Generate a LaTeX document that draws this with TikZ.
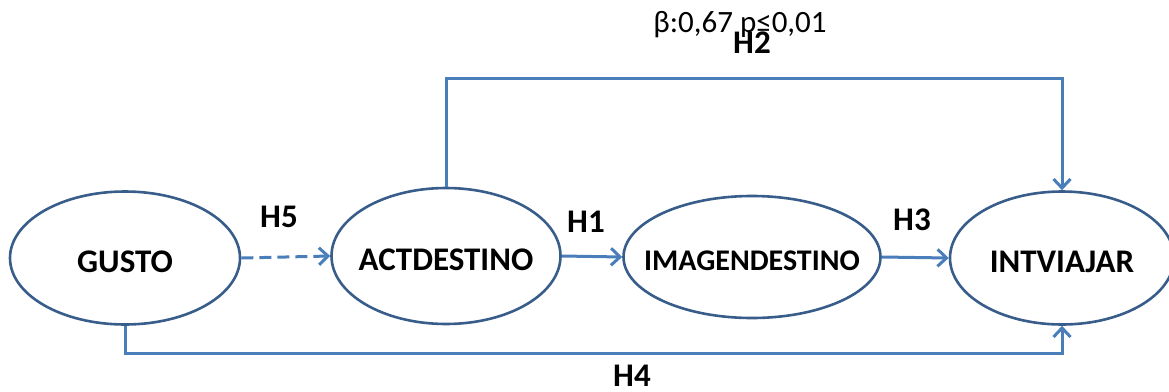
\documentclass[tikz,border=0pt]{standalone}
\usepackage{fontspec}
\setmainfont{Carlito}
\usetikzlibrary{shapes.geometric,arrows.meta}

\definecolor{linkblue}{RGB}{74,126,187}
\definecolor{rimblue}{RGB}{56,93,138}

\tikzset{
    construct/.style={ellipse, draw=rimblue, line width=2.6pt, inner sep=0pt},
    constructname/.style={font=\fontsize{33}{38}\selectfont\bfseries, yshift=-4pt},
    link/.style={draw=linkblue, line width=3pt, -{Straight Barb[length=9pt,width=17pt,line width=3pt]}},
    hyp/.style={font=\fontsize{33}{38}\selectfont\bfseries}
}

\begin{document}
\begin{tikzpicture}[x=1pt, y=-1pt]
            % page frame
            \useasboundingbox (0, 0) rectangle (1169, 391);
            \clip (0, 0) rectangle (1169, 391);
            % constructs
            \node[construct, minimum width=230, minimum height=133,
                label={[constructname]center:GUSTO}] (gusto) at (125, 258) {};
            \node[construct, minimum width=229, minimum height=136,
                label={[constructname]center:ACTDESTINO}] (actdestino) at (446, 256) {};
            \node[construct, minimum width=257, minimum height=122,
                label={[constructname, font=\fontsize{30}{35}\selectfont\bfseries]center:IMAGENDESTINO}] (imagendestino) at (752, 257) {};
            \node[construct, minimum width=224, minimum height=133,
                label={[constructname]center:INTVIAJAR}] (intviajar) at (1062, 258) {};
            % corner points of the long paths
            \coordinate (topline) at (0, 78);
            \coordinate (bottomline) at (0, 353);
            % paths
            \draw[link, dash pattern=on 12pt off 6pt] (gusto.east) -- (actdestino.west);
            \draw[link] (actdestino.east) -- (imagendestino.west);
            \draw[link] (imagendestino.east) -- (intviajar.west);
            \draw[link] (actdestino.north) |- (topline -| intviajar.north) -- (intviajar.north);
            \draw[link] (gusto.south) |- (bottomline -| intviajar.south) -- (intviajar.south);
            % labels
            \node[hyp] (hfive) at (279, 217) {H5};
            \node[hyp] (hone) at (586, 222) {H1};
            \node[hyp] (hthree) at (912, 220) {H3};
            \node[hyp] (hfour) at (632, 376) {H4};
            \node[font=\fontsize{31}{36}\selectfont] (beta) at (740, 25) {β:0,67 p≤0,01};
            \node[hyp] (htwo) at (752, 43) {H2};
        \end{tikzpicture}
\end{document}
